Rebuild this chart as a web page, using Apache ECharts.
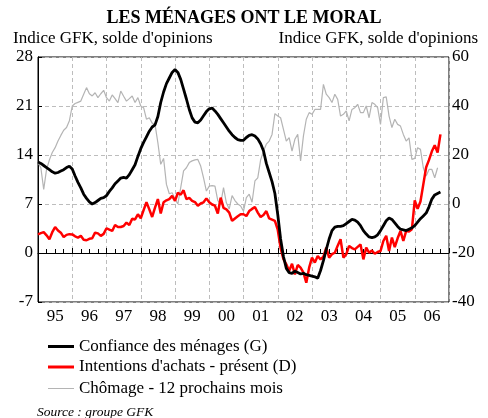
<!DOCTYPE html>
<html>
<head>
<meta charset="utf-8">
<script src="https://cdn.jsdelivr.net/npm/echarts@6/dist/echarts.min.js"></script>
<style>
  html, body { margin: 0; padding: 0; background: #fff; }
  #chart { width: 488px; height: 418px; }
</style>
</head>
<body>
<div id="chart"></div>
<script>
// monthly values, Jan 1995 onwards
const yearLabels = ['95', '96', '97', '98', '99', '00', '01', '02', '03', '04', '05', '06']

// Confiance des ménages (left axis)
const confiance = [
  13.0, 12.8, 12.5, 12.2, 11.9, 11.6, 11.4, 11.5, 11.7, 11.9, 12.2, 12.4,
  12.0, 11.0, 10.1, 9.3, 8.4, 7.8, 7.3, 7.0, 7.2, 7.5, 7.8, 7.9,
  8.2, 8.8, 9.3, 9.9, 10.3, 10.7, 10.8, 10.7, 11.2, 11.9, 12.6, 13.8,
  14.9, 15.8, 16.6, 17.4, 18.0, 18.3, 19.5, 21.5, 23.0, 24.2, 25.0, 25.8,
  26.2, 25.8, 24.8, 23.4, 22.0, 20.5, 19.3, 18.7, 18.6, 19.0, 19.6, 20.2,
  20.6, 20.7, 20.3, 19.8, 19.2, 18.6, 18.0, 17.4, 16.9, 16.5, 16.2, 16.1,
  16.1, 16.5, 16.8, 16.9, 16.7, 16.3, 15.6, 14.6, 12.8, 11.5, 10.2, 8.5,
  5.5, 2.0, -0.5, -2.2, -2.8, -2.9, -2.6, -2.8, -3.0, -2.9, -3.1, -3.2,
  -3.3, -3.4, -3.6, -2.5, -1.1, 0.5, 2.0, 3.2, 3.7, 3.8, 3.8, 3.9,
  4.2, 4.5, 4.8, 4.7, 4.4, 3.9, 3.2, 2.7, 2.3, 2.2, 2.3, 2.6,
  3.2, 3.9, 4.6, 5.0, 4.8, 4.3, 3.8, 3.4, 3.3, 3.2, 3.4, 3.6,
  3.9, 4.4, 4.9, 5.3, 5.7, 6.6, 7.7, 8.3, 8.5, 8.7
]

// Intentions d'achats - présent (right axis)
const intentions = [
  -12.4, -11.9, -11.5, -12.8, -14.4, -11.5, -9.4, -10.8, -11.7, -13.5, -12.6, -12.3,
  -12.4, -13.2, -13.7, -13.0, -14.6, -14.8, -14.2, -14.0, -11.7, -12.0, -13.0, -12.2,
  -9.9, -10.5, -11.0, -8.6, -9.4, -9.4, -9.0, -7.6, -8.6, -6.0, -6.3, -4.2,
  -5.8, -2.5, 0.7, -2.2, -5.3, -1.5, 2.0, -3.9, 0.7, 1.5, 2.0, 3.3,
  1.3, 4.6, 3.8, 5.6, 2.0, 2.5, 1.3, 0.8, -0.7, 0.2, 0.7, 2.3,
  0.7, -0.2, -0.7, -3.9, 2.6, -1.6, -2.2, -3.5, -6.9, -5.9, -5.0, -4.2,
  -4.2, -4.9, -2.9, -2.0, -1.2, -3.5, -5.3, -4.5, -2.9, -5.9, -6.4, -6.9,
  -10.5, -18.0, -22.5, -24.6, -27.3, -24.4, -28.7, -24.9, -26.0, -28.0, -32.1, -26.0,
  -21.9, -23.9, -21.2, -22.6, -21.5, -17.8, -21.9, -20.5, -19.9, -17.0, -14.4, -21.9,
  -20.5, -17.1, -18.0, -18.5, -17.5, -16.5, -22.6, -17.8, -19.9, -19.0, -20.3, -19.6,
  -19.2, -15.1, -13.0, -19.2, -13.7, -17.6, -14.0, -11.0, -15.1, -11.0, -11.2, -10.3,
  1.5, -2.0, 1.0, 8.0, 15.0, 18.0, 21.5, 24.0, 21.0, 28.4
]

// Chômage - 12 prochains mois (right axis)
const chomage = [
  16.9, 14.8, 6.0, 14.1, 18.0, 21.0, 23.0, 25.7, 28.0, 30.1, 31.2, 34.0,
  40.0, 41.0, 41.5, 42.0, 44.8, 47.5, 45.0, 44.1, 45.4, 43.4, 45.0, 46.4,
  43.4, 42.0, 44.5, 43.0, 41.4, 46.1, 44.0, 42.0, 43.0, 44.1, 41.4, 43.4,
  40.0, 39.3, 34.6, 35.2, 33.0, 32.5, 25.0, 16.2, 18.6, 8.0, 4.2, 4.6,
  2.0, 0.0, 6.7, 13.5, 14.8, 16.9, 17.6, 18.0, 18.2, 15.5, 10.7, 5.3,
  7.3, 7.5, 7.3, 1.4, 0.0, 6.7, 0.5, -2.0, 3.4, 1.4, 0.0, -0.8,
  -2.9, 2.6, 4.0, 0.7, 9.4, 10.7, 18.0, 21.6, 24.4, 25.7, 28.4, 36.9,
  35.9, 35.2, 30.5, 25.7, 27.1, 21.6, 26.4, 28.4, 17.6, 27.8, 34.6, 37.3,
  36.6, 38.6, 38.6, 38.6, 48.8, 44.8, 43.4, 41.4, 44.8, 42.7, 35.9, 36.6,
  38.0, 33.9, 38.6, 39.3, 40.7, 37.3, 37.3, 40.0, 35.2, 41.4, 40.7, 39.3,
  32.5, 43.4, 43.7, 35.9, 31.2, 34.6, 32.5, 31.8, 28.4, 25.7, 27.0, 18.2,
  18.6, 23.0, 22.3, 14.8, 11.4, 14.1, 14.1, 10.7, 14.8
]

const serif = 'Liberation Serif'
const toPoints = (arr) => arr.map((v, i) => [i, v])
const nameG = 'Confiance des ménages (G)'
const nameD = "Intentions d'achats - présent (D)"
const nameC = 'Chômage - 12 prochains mois'

let chart = echarts.init(document.getElementById('chart'))

let legendText = { fontFamily: serif, fontSize: 17, color: '#000', lineHeight: 17 }

let option = {
  animation: false,
  backgroundColor: '#fff',
  textStyle: { fontFamily: serif },
  title: {
    text: 'LES MÉNAGES ONT LE MORAL',
    left: 'center',
    top: 4,
    textStyle: { fontFamily: serif, fontSize: 18, fontWeight: 'bold', color: '#000' },
  },
  graphic: [
    {
      type: 'text', left: 13, top: 30,
      style: { text: "Indice GFK, solde d'opinions", font: '17px "Liberation Serif"', fill: '#000' },
    },
    {
      type: 'text', right: 10, top: 30,
      style: { text: "Indice GFK, solde d'opinions", font: '17px "Liberation Serif"', fill: '#000' },
    },
    {
      type: 'text', left: 37, top: 405,
      style: { text: 'Source : groupe GFK', font: 'italic 13.5px "Liberation Serif"', fill: '#000' },
    },
  ],
  legend: [
    {
      orient: 'vertical',
      left: 43,
      top: 333,
      itemWidth: 26,
      itemHeight: 3,
      itemGap: 3.5,
      icon: 'rect',
      textStyle: legendText,
      data: [nameG, nameD],
    },
    {
      orient: 'vertical',
      left: 43,
      top: 375,
      itemWidth: 26,
      itemHeight: 1,
      icon: 'rect',
      textStyle: legendText,
      data: [nameC],
    },
  ],
  grid: {
    left: 38,
    right: 39,
    top: 57,
    bottom: 116,
    show: true,
    borderColor: '#000',
    borderWidth: 1,
  },
  xAxis: [
    {
      type: 'value',
      min: 0,
      max: 144,
      interval: 12,
      axisLine: { show: true, lineStyle: { color: '#000', width: 1 } },
      axisTick: { show: true, inside: true, length: 5, lineStyle: { color: '#000' } },
      minorTick: { show: true, splitNumber: 4, length: 4, lineStyle: { color: '#000' } },
      axisLabel: { show: false },
      splitLine: { show: true, lineStyle: { color: '#bdbdbd', type: [4, 3], width: 1 } },
    },
    {
      type: 'value',
      min: 0,
      max: 144,
      interval: 6,
      position: 'bottom',
      axisLine: { show: false },
      axisTick: { show: false },
      splitLine: { show: false },
      axisLabel: {
        margin: 6,
        fontFamily: serif,
        fontSize: 17,
        color: '#000',
        formatter: (v) => (v % 12 === 6 ? yearLabels[(v - 6) / 12] : ''),
      },
    },
  ],
  yAxis: [
    {
      type: 'value',
      min: -7,
      max: 28,
      interval: 7,
      axisLine: { show: true, lineStyle: { color: '#000' } },
      axisTick: { show: true, inside: true, length: 3, lineStyle: { color: '#000' } },
      axisLabel: { fontFamily: serif, fontSize: 17, color: '#000', margin: 5 },
      splitLine: { show: true, lineStyle: { color: '#bdbdbd', type: [4, 3], width: 1 } },
    },
    {
      type: 'value',
      min: -40,
      max: 60,
      interval: 20,
      position: 'right',
      axisLine: { show: true, lineStyle: { color: '#000' } },
      axisTick: { show: true, inside: false, length: 4, lineStyle: { color: '#000' } },
      axisLabel: { fontFamily: serif, fontSize: 17, color: '#000', margin: 3 },
      splitLine: { show: false },
    },
  ],
  series: [
    {
      name: nameC,
      type: 'line',
      yAxisIndex: 1,
      data: toPoints(chomage),
      symbol: 'none',
      lineStyle: { color: '#b4b4b4', width: 1.2 },
      itemStyle: { color: '#b4b4b4' },
      z: 2,
    },
    {
      name: nameD,
      type: 'line',
      yAxisIndex: 1,
      data: toPoints(intentions),
      symbol: 'none',
      lineStyle: { color: '#ff0000', width: 2.5 },
      itemStyle: { color: '#ff0000' },
      z: 3,
    },
    {
      name: nameG,
      type: 'line',
      yAxisIndex: 0,
      data: toPoints(confiance),
      symbol: 'none',
      lineStyle: { color: '#000', width: 2.8 },
      itemStyle: { color: '#000' },
      z: 4,
    },
  ],
}

chart.setOption(option)
window.addEventListener('resize', function () {
  chart.resize()
})
</script>
</body>
</html>
